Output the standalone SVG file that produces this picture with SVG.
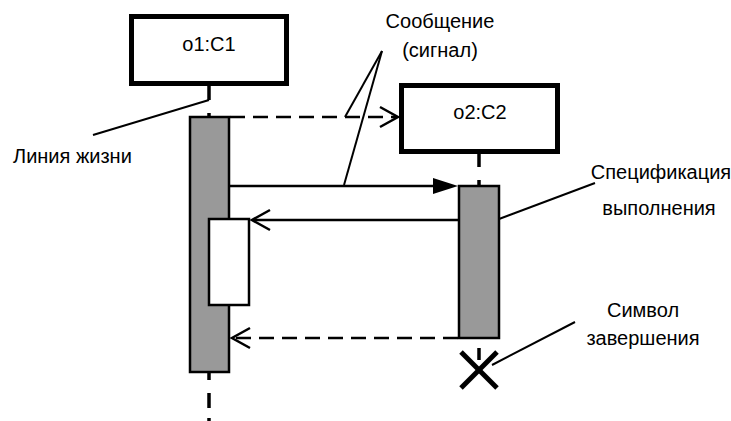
<svg xmlns="http://www.w3.org/2000/svg" width="731" height="421" viewBox="0 0 731 421">
<style>
text{font-family:"Liberation Sans",Arial,sans-serif;font-size:20px;fill:#000}
.obj{fill:#fff;stroke:#000;stroke-width:5}
.bar{fill:#999;stroke:#000;stroke-width:2.5}
.sub{fill:#fff;stroke:#000;stroke-width:2.5}
.life{stroke:#000;stroke-width:3.5;fill:none}
.msg{stroke:#000;stroke-width:2.5;fill:none}
.dash{stroke-dasharray:15 8}
.call{stroke:#000;stroke-width:2;fill:none}
.head{stroke:#000;stroke-width:2.5;fill:none}
</style>
<rect width="731" height="421" fill="#fff"/>
<g id="lifelines">
<line class="life" x1="209" y1="86" x2="209" y2="100"/>
<line class="life" x1="209" y1="113" x2="209" y2="118"/>
<line class="life" x1="209" y1="372" x2="209" y2="380"/>
<line class="life" x1="209" y1="393" x2="209" y2="408"/>
<line class="life" x1="209" y1="418" x2="209" y2="421"/>
<line class="life" x1="479" y1="154" x2="479" y2="167"/>
<line class="life" x1="479" y1="180" x2="479" y2="187"/>
<line class="life" x1="479" y1="348" x2="479" y2="360"/>
</g>
<g id="o1">
<rect class="obj" x="131.5" y="16.5" width="155" height="67"/>
<text x="209" y="51" text-anchor="middle">o1:C1</text>
</g>
<g id="o2">
<rect class="obj" x="401.5" y="85.5" width="156" height="66"/>
<text x="480" y="119" text-anchor="middle">o2:C2</text>
</g>
<g id="act1">
<rect class="bar" x="190" y="117" width="39" height="255"/>
</g>
<g id="act1sub">
<rect class="sub" x="209" y="219" width="40" height="86"/>
</g>
<g id="act2">
<rect class="bar" x="459" y="186" width="40" height="152"/>
</g>
<g id="terminate">
<line x1="461" y1="352" x2="497" y2="388" stroke="#000" stroke-width="5"/>
<line x1="461" y1="388" x2="497" y2="352" stroke="#000" stroke-width="5"/>
</g>
<g id="connectors">
<line class="msg dash" x1="230" y1="117" x2="396" y2="117"/>
<polyline class="head" points="380,107 398,117 380,127"/>
<line class="msg" x1="230" y1="186" x2="435" y2="186"/>
<polygon points="433,178 458,186 433,194" fill="#000"/>
<line class="msg" x1="459" y1="220" x2="254" y2="220"/>
<polyline class="head" points="270,210 252,220 270,230"/>
<line class="msg dash" x1="458" y1="338" x2="234" y2="338"/>
<polyline class="head" points="250,328 232,338 250,348"/>
</g>
<g id="callouts">
<line class="call" x1="209" y1="100" x2="93" y2="135"/>
<line class="call" x1="382" y1="51" x2="345" y2="117"/>
<line class="call" x1="382" y1="51" x2="344" y2="185"/>
<line class="call" x1="499" y1="219" x2="595" y2="183"/>
<line class="call" x1="492" y1="365" x2="575" y2="322"/>
</g>
<g id="labels">
<text x="440" y="28" text-anchor="middle">Сообщение</text>
<text x="440" y="57" text-anchor="middle">(сигнал)</text>
<text x="13" y="163">Линия жизни</text>
<text x="661" y="179" text-anchor="middle">Спецификация</text>
<text x="659" y="215" text-anchor="middle">выполнения</text>
<text x="643" y="317" text-anchor="middle">Символ</text>
<text x="643" y="345" text-anchor="middle">завершения</text>
</g>
</svg>
